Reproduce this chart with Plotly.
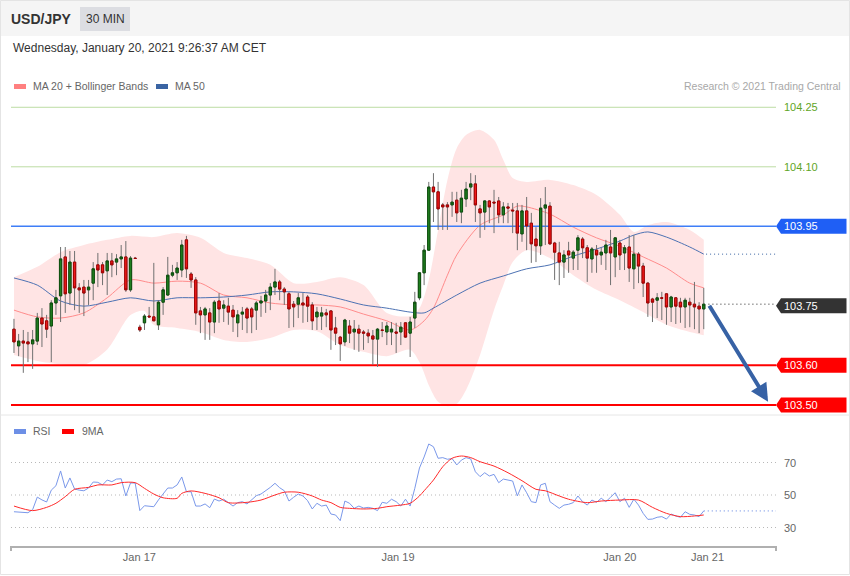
import plotly.graph_objects as go

# ---------------- data ----------------
opens = [
103.691,103.649,103.661,103.659,103.654,103.661,103.719,103.712,103.699,103.757,
103.775,103.873,103.782,103.860,103.795,103.797,103.790,103.807,103.853,103.853,
103.838,103.863,103.860,103.868,103.873,103.790,103.870,103.696,103.707,103.724,
103.722,103.702,103.759,103.777,103.827,103.833,103.840,103.916,103.830,103.815,
103.737,103.727,103.732,103.709,103.762,103.744,103.749,103.739,103.707,103.729,
103.742,103.742,103.739,103.757,103.762,103.777,103.797,103.810,103.792,103.780,
103.754,103.754,103.757,103.772,103.752,103.722,103.724,103.732,103.737,103.694,
103.671,103.659,103.699,103.684,103.691,103.684,103.681,103.674,103.666,103.689,
103.684,103.684,103.684,103.684,103.707,103.681,103.719,103.770,103.833,103.890,
104.049,104.037,104.004,104.004,104.004,104.016,103.986,104.019,104.049,104.057,
103.994,103.986,104.014,104.011,104.014,103.979,103.999,103.991,103.989,103.931,
103.989,103.958,103.918,103.901,103.996,104.001,103.908,103.883,103.860,103.888,
103.870,103.890,103.918,103.896,103.868,103.890,103.878,103.883,103.898,103.873,
103.908,103.883,103.898,103.843,103.880,103.850,103.807,103.767,103.764,103.770,
103.780,103.747,103.770,103.759,103.747,103.759,103.754,103.749,103.742]
highs = [
103.717,103.679,103.689,103.684,103.689,103.732,103.744,103.727,103.764,103.790,
103.898,103.898,103.888,103.888,103.807,103.815,103.815,103.860,103.883,103.860,
103.883,103.883,103.880,103.903,103.913,103.875,103.873,103.702,103.729,103.747,
103.858,103.764,103.797,103.873,103.853,103.860,103.916,103.926,103.835,103.822,
103.747,103.747,103.744,103.764,103.782,103.764,103.770,103.752,103.739,103.747,
103.747,103.747,103.762,103.775,103.790,103.807,103.843,103.815,103.797,103.785,
103.762,103.782,103.782,103.777,103.759,103.747,103.747,103.742,103.739,103.722,
103.674,103.717,103.714,103.714,103.702,103.689,103.691,103.689,103.694,103.709,
103.709,103.709,103.707,103.709,103.709,103.722,103.785,103.835,103.903,104.062,
104.084,104.062,104.009,104.011,104.037,104.037,104.042,104.062,104.084,104.079,
104.004,104.016,104.016,104.042,104.024,104.011,104.009,104.009,104.009,104.004,
104.024,103.984,103.948,104.021,104.049,104.011,103.911,103.911,103.890,103.911,
103.890,103.928,103.923,103.903,103.898,103.903,103.896,103.916,103.941,103.923,
103.916,103.903,103.928,103.928,103.885,103.858,103.810,103.770,103.782,103.785,
103.782,103.775,103.772,103.770,103.770,103.770,103.810,103.759,103.795]
lows = [
103.631,103.623,103.581,103.608,103.591,103.651,103.646,103.669,103.608,103.727,
103.709,103.732,103.752,103.739,103.732,103.724,103.752,103.764,103.797,103.802,
103.777,103.822,103.827,103.845,103.785,103.785,103.868,103.684,103.689,103.719,
103.712,103.689,103.727,103.775,103.822,103.815,103.822,103.820,103.795,103.702,
103.681,103.664,103.664,103.681,103.707,103.709,103.702,103.684,103.671,103.689,
103.681,103.681,103.689,103.722,103.732,103.739,103.777,103.764,103.752,103.694,
103.696,103.719,103.707,103.709,103.689,103.689,103.689,103.696,103.639,103.651,
103.611,103.649,103.656,103.639,103.634,103.639,103.656,103.601,103.596,103.671,
103.651,103.651,103.631,103.651,103.669,103.621,103.694,103.764,103.802,103.890,
103.961,103.941,103.941,103.941,103.974,103.961,103.958,103.999,104.016,103.961,
103.921,103.941,103.958,103.933,103.958,103.958,103.958,103.933,103.890,103.911,
103.890,103.858,103.860,103.878,103.903,103.903,103.815,103.802,103.820,103.833,
103.840,103.840,103.870,103.810,103.833,103.833,103.853,103.840,103.802,103.822,
103.840,103.840,103.810,103.792,103.807,103.772,103.722,103.709,103.719,103.714,
103.702,103.709,103.704,103.707,103.694,103.696,103.691,103.681,103.691]
closes = [
103.659,103.661,103.656,103.654,103.664,103.719,103.704,103.691,103.757,103.770,
103.868,103.780,103.860,103.795,103.790,103.782,103.797,103.843,103.840,103.833,
103.863,103.853,103.868,103.873,103.790,103.870,103.869,103.689,103.724,103.722,
103.712,103.759,103.790,103.827,103.833,103.845,103.903,103.843,103.815,103.732,
103.727,103.742,103.709,103.759,103.742,103.752,103.734,103.722,103.727,103.734,
103.719,103.722,103.757,103.762,103.777,103.797,103.810,103.792,103.785,103.742,
103.747,103.770,103.752,103.749,103.712,103.734,103.732,103.727,103.689,103.681,
103.654,103.714,103.681,103.691,103.681,103.681,103.674,103.666,103.691,103.688,
103.699,103.691,103.681,103.696,103.671,103.709,103.759,103.833,103.890,104.049,
104.037,103.994,103.999,103.999,104.011,103.984,104.021,104.044,104.057,104.004,
103.984,104.014,103.999,104.009,103.979,103.999,103.996,103.989,103.933,103.989,
103.951,103.906,103.901,103.996,104.004,103.906,103.885,103.860,103.878,103.878,
103.885,103.921,103.896,103.870,103.893,103.878,103.885,103.903,103.883,103.921,
103.878,103.896,103.845,103.880,103.850,103.807,103.757,103.759,103.770,103.769,
103.747,103.772,103.749,103.747,103.764,103.752,103.747,103.742,103.754]

ma20_idx = [0,5,10,15,20,25,30,35,40,45,50,55,60,65,70,75,80,85,88,90,93,95,100,105,108,110,115,120,125,130,135,140,145,148]
ma20_val = [103.739,103.722,103.719,103.732,103.770,103.815,103.807,103.812,103.807,103.777,103.770,103.757,103.752,103.752,103.747,103.729,103.712,103.689,103.712,103.744,103.827,103.878,103.953,103.979,104.001,103.999,103.981,103.948,103.921,103.900,103.873,103.845,103.807,103.795]

bb_up_idx = [0,5,10,15,20,25,30,35,40,45,50,55,60,65,70,75,80,85,87,89,91,93,95,97,100,103,105,107,110,115,120,125,130,133,136,140,145,148]
bb_up_val = [103.822,103.848,103.885,103.903,103.916,103.926,103.923,103.933,103.921,103.883,103.870,103.853,103.807,103.810,103.822,103.802,103.732,103.724,103.744,103.815,103.941,104.067,104.147,104.180,104.193,104.168,104.117,104.072,104.062,104.067,104.054,104.029,103.979,103.936,103.953,103.961,103.941,103.916]

bb_lo_idx = [0,5,10,15,20,25,28,30,35,40,45,50,55,60,65,70,75,80,85,87,89,91,93,95,97,100,103,105,107,110,115,120,125,130,135,140,145,148]
bb_lo_val = [103.626,103.611,103.603,103.601,103.640,103.727,103.737,103.702,103.694,103.684,103.664,103.659,103.669,103.689,103.686,103.651,103.634,103.623,103.639,103.608,103.550,103.508,103.497,103.503,103.538,103.626,103.739,103.802,103.860,103.890,103.870,103.827,103.790,103.764,103.734,103.702,103.684,103.676]

ma50_idx = [0,5,10,15,20,25,30,35,40,45,50,55,60,65,70,75,80,85,88,90,95,100,105,110,115,120,125,130,133,136,140,145,148]
ma50_val = [103.820,103.802,103.762,103.749,103.759,103.770,103.762,103.770,103.770,103.772,103.777,103.785,103.785,103.780,103.767,103.752,103.744,103.734,103.732,103.744,103.777,103.807,103.825,103.843,103.853,103.875,103.893,103.913,103.928,103.936,103.923,103.898,103.880]

rsi = [
39.7,39.5,39.3,39.1,41.0,48.7,47.0,45.7,53.0,55.7,
64.8,54.3,60.5,53.7,53.0,52.6,54.3,58.0,57.8,56.2,
59.2,58.2,59.8,60.0,49.4,57.4,57.4,40.4,43.4,43.2,
42.8,47.0,51.0,54.3,54.3,56.2,61.1,52.0,52.0,43.2,
43.2,44.5,42.2,47.5,46.3,47.4,45.3,43.2,45.3,45.9,
44.5,46.9,49.6,50.6,52.6,54.7,57.2,54.5,52.6,46.3,
48.6,50.6,49.4,46.5,41.4,44.9,43.2,43.8,38.3,37.7,
34.2,46.3,44.9,41.8,43.2,42.0,42.4,41.8,40.4,45.5,
44.9,47.4,45.9,43.2,47.4,43.2,54.1,66.6,73.4,81.4,
79.7,72.6,73.0,72.0,72.4,68.5,71.5,73.0,72.2,64.3,
61.3,63.7,61.7,62.7,57.6,59.8,59.2,58.6,49.4,56.2,
51.4,45.9,45.3,56.2,57.2,45.9,43.8,41.8,43.8,44.3,
45.3,49.4,45.9,43.8,46.9,45.5,48.0,45.9,48.6,51.4,
45.9,48.0,42.4,47.4,43.8,38.7,35.0,35.2,36.3,36.7,
35.2,38.3,37.1,36.3,39.7,38.1,37.7,36.7,40.2]

ma9_idx = [0,4,7,9,11,13,16,18,21,23,26,28,30,32,35,36,38,41,44,46,50,53,56,58,61,64,66,68,70,72,75,78,80,83,85,87,88,90,92,94,96,98,100,103,106,109,112,114,117,119,123,126,130,134,137,140,143,146,148]
ma9_val = [43.2,40.4,42.4,44.9,49.0,53.5,54.7,56.2,56.2,57.6,57.6,54.1,50.6,48.3,48.0,51.0,52.5,51.0,48.3,45.3,45.5,46.9,50.0,51.7,51.7,49.4,46.9,45.3,42.4,41.8,41.4,41.8,42.8,43.8,44.9,49.4,52.6,59.2,67.4,72.6,74.0,73.0,70.5,67.8,63.7,58.8,53.5,52.6,49.4,47.4,45.3,46.3,46.9,46.9,42.4,38.7,36.7,37.1,37.7]

resistance_levels = [104.25, 104.10]
pivot_level = 103.95
support_levels = [103.60, 103.50]
target_level = 103.50
rsi_levels = [70, 50, 30]

date_labels = ["Jan 17", "Jan 19", "Jan 20", "Jan 21"]
date_pos = [26.9, 82.4, 130.0, 148.8]

# ---------------- layout helpers ----------------
W, H = 850, 576
ML, MR, MT, MB = 11, 74, 0, 30
PW, PH = W - ML - MR, H - MT - MB
def px(x):
    return (x - ML) / PW
def py(y):
    return (PH - (y - MT)) / PH

FONT = "Liberation Sans, Arial, sans-serif"
n = len(closes)
idx = list(range(n))
X0, X1 = -0.64, 163.5
XE = X1
PRICE_RANGE = [103.4748, 104.2809]
RSI_RANGE = [18.62, 83.85]
px_per_price = (py(95) - py(415)) * PH / (PRICE_RANGE[1] - PRICE_RANGE[0])
DOTS = "1px,3px"

fig = go.Figure()

# Bollinger band fill
fig.add_trace(go.Scatter(x=bb_up_idx, y=bb_up_val, mode="lines",
                         line=dict(width=0, shape="spline", smoothing=0.8),
                         hoverinfo="skip", xaxis="x", yaxis="y"))
fig.add_trace(go.Scatter(x=bb_lo_idx, y=bb_lo_val, mode="lines", fill="tonexty",
                         fillcolor="#ffe4e4",
                         line=dict(width=0, shape="spline", smoothing=0.8),
                         hoverinfo="skip", xaxis="x", yaxis="y"))
# MA lines
fig.add_trace(go.Scatter(x=ma20_idx, y=ma20_val, mode="lines",
                         line=dict(color="#ff8c8c", width=1, shape="spline", smoothing=0.8),
                         xaxis="x", yaxis="y"))
fig.add_trace(go.Scatter(x=ma50_idx, y=ma50_val, mode="lines",
                         line=dict(color="#4d72b3", width=1, shape="spline", smoothing=0.8),
                         xaxis="x", yaxis="y"))

# level lines
for lv in resistance_levels:
    fig.add_trace(go.Scatter(x=[X0, XE], y=[lv, lv], mode="lines",
                             line=dict(color="#bcdca3", width=1), xaxis="x", yaxis="y"))
fig.add_trace(go.Scatter(x=[X0, XE], y=[pivot_level, pivot_level], mode="lines",
                         line=dict(color="#3f7ef7", width=1.5), xaxis="x", yaxis="y"))
for lv in support_levels:
    fig.add_trace(go.Scatter(x=[X0, XE], y=[lv, lv], mode="lines",
                             line=dict(color="#ff0000", width=2), xaxis="x", yaxis="y"))

# dotted extensions after last candle
fig.add_trace(go.Scatter(x=[n, XE], y=[closes[-1], closes[-1]], mode="lines",
                         line=dict(color="#222222", width=1, dash=DOTS), xaxis="x", yaxis="y"))
fig.add_trace(go.Scatter(x=[n - 0.5, XE], y=[ma50_val[-1], ma50_val[-1]], mode="lines",
                         line=dict(color="#3a64a3", width=1, dash=DOTS), xaxis="x", yaxis="y"))

# candles on an overlaying axis so they are drawn above the band fill
fig.add_trace(go.Candlestick(x=idx, open=opens, high=highs, low=lows, close=closes,
                             increasing=dict(line=dict(color="#707070", width=1), fillcolor="#707070"),
                             decreasing=dict(line=dict(color="#707070", width=1), fillcolor="#707070"),
                             xaxis="x", yaxis="y3", hoverinfo="skip"))
body_hi = [max(o, c) for o, c in zip(opens, closes)]
body_lo = [min(o, c) for o, c in zip(opens, closes)]
fig.add_trace(go.Candlestick(x=idx, open=opens, high=body_hi, low=body_lo, close=closes,
                             increasing=dict(line=dict(color="#0d4f0d", width=1), fillcolor="#1f7f1f"),
                             decreasing=dict(line=dict(color="#a30000", width=1), fillcolor="#ee1a1a"),
                             xaxis="x", yaxis="y3"))

# RSI panel
for lv in rsi_levels:
    fig.add_trace(go.Scatter(x=[X0, XE], y=[lv, lv], mode="lines",
                             line=dict(color="#b8b8b8", width=1, dash=DOTS), xaxis="x2", yaxis="y2"))
fig.add_trace(go.Scatter(x=[n - 1, XE], y=[rsi[-1], rsi[-1]], mode="lines",
                         line=dict(color="#5a7fe0", width=1, dash=DOTS), xaxis="x2", yaxis="y2"))
fig.add_trace(go.Scatter(x=idx, y=rsi, mode="lines",
                         line=dict(color="#7a98ea", width=1), xaxis="x2", yaxis="y2"))
fig.add_trace(go.Scatter(x=ma9_idx, y=ma9_val, mode="lines",
                         line=dict(color="#ff2a2a", width=1, shape="spline", smoothing=0.8),
                         xaxis="x2", yaxis="y2"))

shapes = []
annotations = []

# frame, header band, separator
shapes.append(dict(type="rect", xref="paper", yref="paper", x0=px(0), x1=px(W), y0=py(0), y1=py(36),
                   fillcolor="#f5f5f5", line=dict(width=0), layer="below"))
shapes.append(dict(type="rect", xref="paper", yref="paper", x0=px(80), x1=px(130), y0=py(7), y1=py(31),
                   fillcolor="#dcdde2", line=dict(width=0), layer="below"))
shapes.append(dict(type="rect", xref="paper", yref="paper", x0=px(0.5), x1=px(849.5), y0=py(0.5), y1=py(574.5),
                   fillcolor="rgba(0,0,0,0)", line=dict(color="#e4e4e4", width=1)))
shapes.append(dict(type="line", xref="paper", yref="paper", x0=px(0), x1=px(W), y0=py(415), y1=py(415),
                   line=dict(color="#e6e6e6", width=1)))
for xe in (11, 776):
    shapes.append(dict(type="line", xref="paper", yref="paper", x0=px(xe), x1=px(xe), y0=py(546), y1=py(551),
                       line=dict(color="#b0b0b0", width=2)))

# legend swatches
shapes.append(dict(type="rect", xref="paper", yref="paper", x0=px(14), x1=px(26), y0=py(84), y1=py(89),
                   fillcolor="#ff8080", line=dict(width=0)))
shapes.append(dict(type="rect", xref="paper", yref="paper", x0=px(156), x1=px(168), y0=py(84), y1=py(89),
                   fillcolor="#3a64a3", line=dict(width=0)))
shapes.append(dict(type="rect", xref="paper", yref="paper", x0=px(14), x1=px(26), y0=py(429), y1=py(434),
                   fillcolor="#6d8fe6", line=dict(width=0)))
shapes.append(dict(type="rect", xref="paper", yref="paper", x0=px(62), x1=px(74), y0=py(429), y1=py(434),
                   fillcolor="#ff0000", line=dict(width=0)))

def ann(x, y, text, size=11, color="#333", xanchor="left", bold=False, xref="paper", yref="paper"):
    annotations.append(dict(x=x, y=y, xref=xref, yref=yref, text=("<b>%s</b>" % text) if bold else text,
                            showarrow=False, xanchor=xanchor, yanchor="middle",
                            font=dict(family=FONT, size=size, color=color)))

ann(px(9), py(19), "USD/JPY", size=14, color="#333", bold=True)
ann(px(105), py(19), "30 MIN", size=12, color="#333", xanchor="center")
ann(px(11), py(48), "Wednesday, January 20, 2021 9:26:37 AM CET", size=12, color="#333")
ann(px(31), py(86), "MA 20 + Bollinger Bands", size=10.5, color="#666")
ann(px(173), py(86), "MA 50", size=10.5, color="#666")
ann(px(843), py(86), "Research © 2021 Trading Central", size=10.5, color="#a8a8a8", xanchor="right")
ann(px(31), py(431), "RSI", size=10.5, color="#666")
ann(px(80), py(431), "9MA", size=10.5, color="#666")

# price tags
h = 7.5 / px_per_price
def tag(level, color):
    xa, xb, xc = px(776), px(781), px(846.5)
    path = "M %f,%f L %f,%f L %f,%f L %f,%f L %f,%f Z" % (
        xa, level, xb, level + h, xc, level + h, xc, level - h, xb, level - h)
    shapes.append(dict(type="path", xref="paper", yref="y", path=path, fillcolor=color, line=dict(width=0)))
    ann(px(782), level, "%.2f" % level, size=11, color="white", yref="y")

for lv in resistance_levels:
    ann(px(782), lv, "%.2f" % lv, size=11, color="#5fa526", yref="y")
tag(pivot_level, "#1f5ff5")
tag(round(closes[-1], 2), "#333333")
for lv in support_levels:
    tag(lv, "#ff0000")

for lv in rsi_levels:
    ann(px(782), lv, str(lv), size=11, color="#666", yref="y2")

# forecast arrow
annotations.append(dict(x=161.8, y=target_level + 0.008, xref="x", yref="y",
                        ax=n, ay=closes[-1], axref="x", ayref="y",
                        showarrow=True, arrowhead=2, arrowsize=0.9, arrowwidth=4,
                        arrowcolor="#3762a5", text=""))

fig.update_layout(
    width=W, height=H,
    margin=dict(l=ML, r=MR, t=MT, b=MB),
    paper_bgcolor="white", plot_bgcolor="white",
    showlegend=False,
    font=dict(family=FONT),
    xaxis=dict(domain=[0, 1], range=[X0, X1], visible=False, anchor="y",
               rangeslider=dict(visible=False), fixedrange=True),
    yaxis=dict(domain=[py(415), py(95)], range=PRICE_RANGE, visible=False, fixedrange=True),
    yaxis3=dict(range=PRICE_RANGE, overlaying="y", visible=False, fixedrange=True),
    xaxis2=dict(domain=[0, 1], range=[X0, X1], anchor="y2", showline=True, linecolor="#b0b0b0",
                linewidth=2, showgrid=False, zeroline=False, tickmode="array",
                tickvals=date_pos, ticktext=date_labels, ticks="",
                tickfont=dict(family=FONT, size=11, color="#666"), fixedrange=True),
    yaxis2=dict(domain=[0, py(440)], range=RSI_RANGE, visible=False, fixedrange=True),
    shapes=shapes, annotations=annotations,
)

fig.write_html("out.html", config={"displayModeBar": False},
               post_script="document.body.style.margin='0';document.body.style.overflow='hidden';")
